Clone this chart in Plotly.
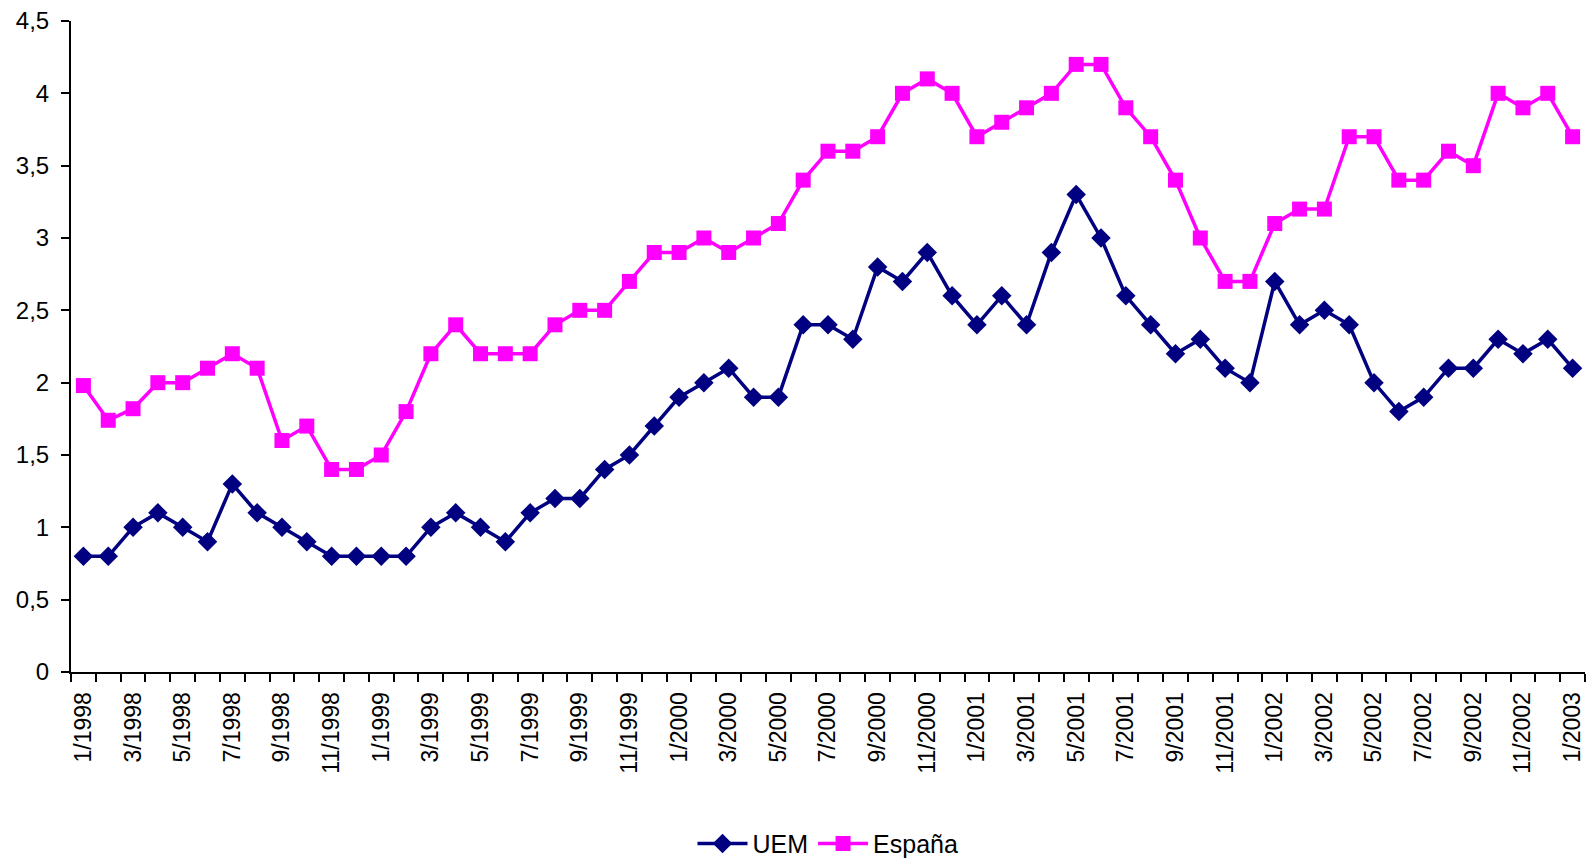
import plotly.graph_objects as go

# monthly categories 1/1998 .. 1/2003
months = [f"{m}/{y}" for y in range(1998, 2003) for m in range(1, 13)] + ["1/2003"]
tick_labels = [lab if i % 2 == 0 else "" for i, lab in enumerate(months)]

uem = [
    0.8, 0.8, 1.0, 1.1, 1.0, 0.9, 1.3, 1.1, 1.0, 0.9, 0.8, 0.8,
    0.8, 0.8, 1.0, 1.1, 1.0, 0.9, 1.1, 1.2, 1.2, 1.4, 1.5, 1.7,
    1.9, 2.0, 2.1, 1.9, 1.9, 2.4, 2.4, 2.3, 2.8, 2.7, 2.9, 2.6,
    2.4, 2.6, 2.4, 2.9, 3.3, 3.0, 2.6, 2.4, 2.2, 2.3, 2.1, 2.0,
    2.7, 2.4, 2.5, 2.4, 2.0, 1.8, 1.9, 2.1, 2.1, 2.3, 2.2, 2.3,
    2.1,
]
espana = [
    1.98, 1.74, 1.82, 2.0, 2.0, 2.1, 2.2, 2.1, 1.6, 1.7, 1.4, 1.4,
    1.5, 1.8, 2.2, 2.4, 2.2, 2.2, 2.2, 2.4, 2.5, 2.5, 2.7, 2.9,
    2.9, 3.0, 2.9, 3.0, 3.1, 3.4, 3.6, 3.6, 3.7, 4.0, 4.1, 4.0,
    3.7, 3.8, 3.9, 4.0, 4.2, 4.2, 3.9, 3.7, 3.4, 3.0, 2.7, 2.7,
    3.1, 3.2, 3.2, 3.7, 3.7, 3.4, 3.4, 3.6, 3.5, 4.0, 3.9, 4.0,
    3.7,
]

font = "Liberation Sans, Arial, sans-serif"

fig = go.Figure()
fig.add_trace(go.Scatter(
    x=months, y=uem, name="UEM", mode="lines+markers",
    line=dict(color="#000080", width=3.5),
    marker=dict(symbol="diamond", size=15, color="#000080"),
))
fig.add_trace(go.Scatter(
    x=months, y=espana, name="España", mode="lines+markers",
    line=dict(color="#FF00FF", width=3.5),
    marker=dict(symbol="square", size=15, color="#FF00FF"),
))

# page body has an 8px margin; figure runs past the bottom of the
# window so the legend box doesn't push the plot area up
fig.update_layout(
    width=1586, height=890,
    margin=dict(l=63, r=9, t=13, b=226),
    plot_bgcolor="white", paper_bgcolor="white",
    separators=", ",
    font=dict(family=font, size=23, color="black"),
    showlegend=True,
    legend=dict(
        orientation="h", x=0.5, xanchor="center", y=-0.264, yanchor="middle",
        font=dict(size=25), itemwidth=50, tracegroupgap=0,
    ),
    xaxis=dict(
        type="category", range=[-0.5, 60.5], automargin=False,
        tickmode="array", tickvals=months, ticktext=tick_labels,
        tickson="boundaries", ticks="outside", ticklen=8, tickwidth=1.5,
        tickcolor="black", tickangle=-90, tickfont=dict(size=23),
        ticklabelstandoff=9, ticklabeloverflow="allow",
        showline=True, linecolor="black", linewidth=2,
        showgrid=False, zeroline=False,
    ),
    yaxis=dict(
        range=[0, 4.5], dtick=0.5, tickformat=".1~f", automargin=False,
        ticks="outside", ticklen=8, tickwidth=1.5, tickcolor="black",
        ticklabelstandoff=7, ticklabeloverflow="allow",
        showline=True, linecolor="black", linewidth=2,
        showgrid=False, zeroline=False, tickfont=dict(size=24),
    ),
)

fig.write_html("out.html")
